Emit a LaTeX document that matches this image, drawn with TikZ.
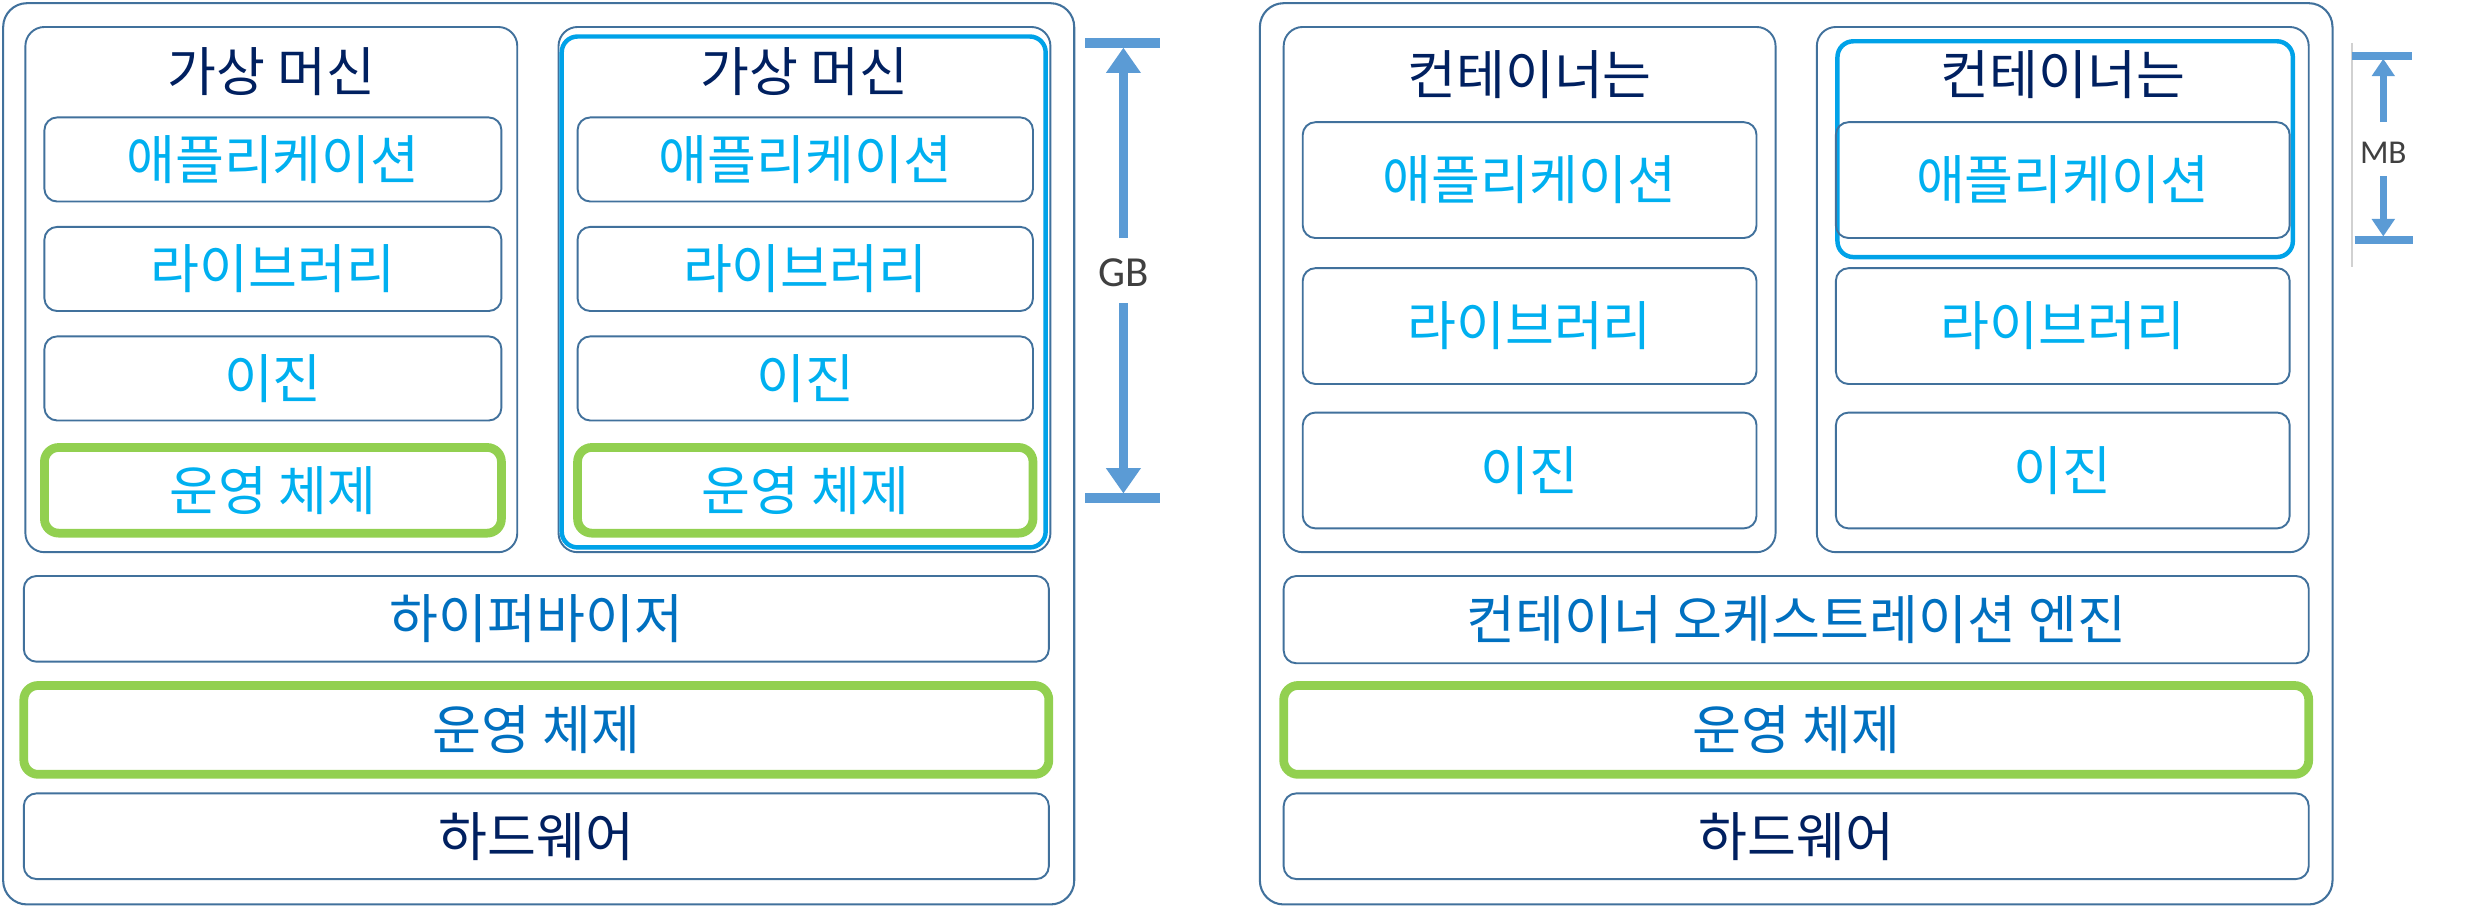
\documentclass[tikz,border=0pt]{standalone}
\usepackage{fontspec}
\setmainfont{Noto Sans CJK KR}
\newfontfamily\latfont{Carlito}
\usetikzlibrary{arrows.meta}
\definecolor{bordc}{HTML}{41719C}
\definecolor{navy}{HTML}{002060}
\definecolor{cyant}{HTML}{00B0F0}
\definecolor{midblue}{HTML}{0070C0}
\definecolor{grn}{HTML}{92D050}
\definecolor{hl}{HTML}{00A2E8}
\definecolor{arrc}{HTML}{5B9BD5}
\definecolor{lblc}{HTML}{404040}
\tikzset{
  kfont/.style={font=\fontsize{33.5}{37}\selectfont},
  outerbox/.style={draw=bordc, line width=1.3pt, rounded corners=15pt, inner sep=0pt},
  grpbox/.style={draw=bordc, line width=1.2pt, rounded corners=12pt, inner sep=0pt},
  blk/.style={draw=bordc, line width=1.2pt, rounded corners=8pt, inner sep=0pt, kfont, text=cyant},
  osbox/.style={draw=grn, line width=5.5pt, rounded corners=9pt, inner sep=0pt, kfont},
  hlbox/.style={draw=hl, line width=2.8pt, rounded corners=10pt, inner sep=0pt},
  ttl/.style={kfont, text=navy, inner sep=0pt},
  bar/.style={draw=arrc, line width=6pt},
  dimline/.style={draw=arrc, line width=6pt, -{Triangle[width=21pt,length=16pt]}},
  dimlines/.style={draw=arrc, line width=4.5pt, -{Triangle[width=14pt,length=11pt]}},
  barsm/.style={draw=arrc, line width=5pt},
  lbl/.style={font=\latfont\fontsize{27}{30}\selectfont, text=lblc, inner sep=0pt},
  lbls/.style={font=\latfont\fontsize{21}{24}\selectfont, text=lblc, inner sep=0pt}
}
\begin{document}
\begin{tikzpicture}[x=1pt,y=-1pt]
\useasboundingbox (0,0) rectangle (1568,582);
\fill[white] (0,0) rectangle (1568,582);
% ---------- left side ----------
\node[outerbox, minimum width=675pt, minimum height=568pt] (outerL) at (339.5,286) {};
\node[grpbox, minimum width=310pt, minimum height=331pt] (vm1) at (171,182.5) {};
\node[ttl] (vm1t) at (171,45) {가상 머신};
\node[blk, minimum width=288pt, minimum height=53pt] (app1) at (172,100.5) {애플리케이션};
\node[blk, minimum width=288pt, minimum height=53pt] (lib1) at (172,169.5) {라이브러리};
\node[blk, minimum width=288pt, minimum height=53pt] (bin1) at (172,238.5) {이진};
\node[osbox, text=cyant, minimum width=288pt, minimum height=54pt] (os1) at (172,309) {운영 체제};

\node[grpbox, minimum width=310pt, minimum height=331pt] (vm2) at (507,182.5) {};
\node[hlbox, minimum width=305pt, minimum height=322pt] (vm2h) at (506.5,184) {};
\node[ttl] (vm2t) at (507,45) {가상 머신};
\node[blk, minimum width=287pt, minimum height=53pt] (app2) at (507.5,100.5) {애플리케이션};
\node[blk, minimum width=287pt, minimum height=53pt] (lib2) at (507.5,169.5) {라이브러리};
\node[blk, minimum width=287pt, minimum height=53pt] (bin2) at (507.5,238.5) {이진};
\node[osbox, text=cyant, minimum width=287pt, minimum height=54pt] (os2) at (507.5,309) {운영 체제};

\node[blk, text=midblue, minimum width=646pt, minimum height=54pt] (hyp) at (338,390) {하이퍼바이저};
\node[osbox, text=midblue, minimum width=646pt, minimum height=56pt] (osL) at (338,460) {운영 체제};
\node[blk, text=navy, minimum width=646pt, minimum height=54pt] (hwL) at (338,527) {하드웨어};

% GB dimension
\coordinate (gbt1) at (684,27); \coordinate (gbt2) at (731,27);
\coordinate (gbb1) at (684,314); \coordinate (gbb2) at (731,314);
\coordinate (gbtop) at (708,30); \coordinate (gbbot) at (708,311);
\coordinate (gbu) at (708,150); \coordinate (gbd) at (708,191);
\draw[bar] (gbt1) -- (gbt2);
\draw[bar] (gbb1) -- (gbb2);
\draw[dimline] (gbu) -- (gbtop);
\draw[dimline] (gbd) -- (gbbot);
\node[lbl] (gb) at (708,172) {GB};

% ---------- right side ----------
\node[outerbox, minimum width=676pt, minimum height=568pt] (outerR) at (1132,286) {};
\node[grpbox, minimum width=310pt, minimum height=331pt] (c1) at (964,182.5) {};
\node[ttl] (c1t) at (964,47) {컨테이너는};
\node[blk, minimum width=286pt, minimum height=73pt] (c1app) at (964,113.5) {애플리케이션};
\node[blk, minimum width=286pt, minimum height=73pt] (c1lib) at (964,205.5) {라이브러리};
\node[blk, minimum width=286pt, minimum height=73pt] (c1bin) at (964,296.5) {이진};

\node[grpbox, minimum width=310pt, minimum height=331pt] (c2) at (1300,182.5) {};
\node[hlbox, minimum width=287pt, minimum height=136pt] (c2h) at (1301.5,94) {};
\node[ttl] (c2t) at (1300,47) {컨테이너는};
\node[blk, minimum width=286pt, minimum height=73pt] (c2app) at (1300,113.5) {애플리케이션};
\node[blk, minimum width=286pt, minimum height=73pt] (c2lib) at (1300,205.5) {라이브러리};
\node[blk, minimum width=286pt, minimum height=73pt] (c2bin) at (1300,296.5) {이진};

\node[blk, text=midblue, minimum width=646pt, minimum height=55pt] (eng) at (1132,390.5) {컨테이너 오케스트레이션 엔진};
\node[osbox, text=midblue, minimum width=646pt, minimum height=56pt] (osR) at (1132,460) {운영 체제};
\node[blk, text=navy, minimum width=646pt, minimum height=54pt] (hwR) at (1132,527) {하드웨어};

% MB dimension
\coordinate (mbg1) at (1482,27); \coordinate (mbg2) at (1482,168);
\draw[draw=black!18, line width=1.2pt] (mbg1) -- (mbg2);
\coordinate (mbt1) at (1482,35); \coordinate (mbt2) at (1520,35);
\coordinate (mbb1) at (1484,151); \coordinate (mbb2) at (1521,151);
\coordinate (mbtop) at (1502,37); \coordinate (mbbot) at (1502,149);
\coordinate (mbu) at (1502,77); \coordinate (mbd) at (1502,111);
\draw[barsm] (mbt1) -- (mbt2);
\draw[barsm] (mbb1) -- (mbb2);
\draw[dimlines] (mbu) -- (mbtop);
\draw[dimlines] (mbd) -- (mbbot);
\node[lbls] (mb) at (1502,96) {MB};
\end{tikzpicture}
\end{document}
